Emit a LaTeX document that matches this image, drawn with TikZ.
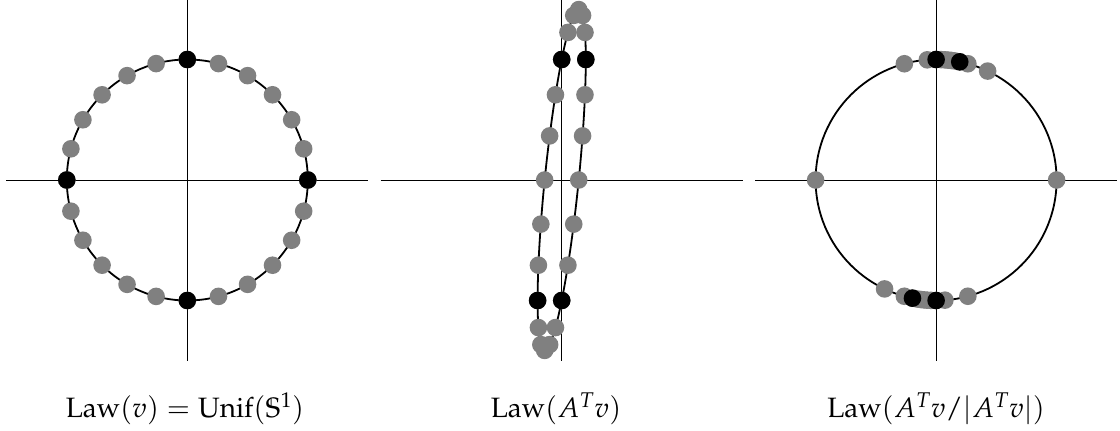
\documentclass[tikz,border=0pt]{standalone}
\usepackage{mathpazo}
\newcommand{\labsize}{\fontsize{28pt}{34pt}\selectfont}
\tikzset{
  axisline/.style={line width=0.8pt, black},
  curveline/.style={line width=1.8pt, black, line join=round},
  gdot/.style={fill=gray},
  bdot/.style={fill=black},
  lab/.style={anchor=base, inner sep=0pt, font=\labsize}
}
\begin{document}
\begin{tikzpicture}[x=1pt,y=1pt]
\useasboundingbox (0,0) rectangle (1120,431);
\def\R{120.5}
\def\rd{8.8}
% panel 1
\begin{scope}[shift={(187.3,251)}]
  \draw[axisline] (-181,0) -- (181,0);
  \draw[axisline] (0,-181) -- (0,180);
  \draw[curveline] (0,0) circle (\R);
  \foreach \a in {0,15,...,345} \fill[gdot] (\a:\R) circle (\rd);
  \foreach \a in {0,90,180,270} \fill[bdot] (\a:\R) circle (\rd);
\end{scope}
% panel 2
\begin{scope}[shift={(561.7,251)}]
  \draw[axisline] (-181,0) -- (181,0);
  \draw[axisline] (0,-181) -- (0,180);
  \draw[curveline, samples=181, domain=0:360, variable=\t]
    plot ({0.2*\R*sin(\t)}, {\R*(cos(\t)+sin(\t))}) -- cycle;
  \foreach \a in {0,15,...,345}
    \fill[gdot] ({0.2*\R*sin(\a)}, {\R*(cos(\a)+sin(\a))}) circle (\rd);
  \foreach \a in {0,90,180,270}
    \fill[bdot] ({0.2*\R*sin(\a)}, {\R*(cos(\a)+sin(\a))}) circle (\rd);
\end{scope}
% panel 3
\begin{scope}[shift={(936.1,251)}]
  \draw[axisline] (-181,0) -- (181,0);
  \draw[axisline] (0,-181) -- (0,180);
  \draw[curveline] (0,0) circle (\R);
  \foreach \a in {0,15,...,345} {
    \pgfmathsetmacro\px{0.2*sin(\a)}
    \pgfmathsetmacro\py{cos(\a)+sin(\a)}
    \pgfmathsetmacro\ang{atan2(\py,\px)}
    \fill[gdot] (\ang:\R) circle (\rd);
  }
  \foreach \a in {0,90,180,270} {
    \pgfmathsetmacro\px{0.2*sin(\a)}
    \pgfmathsetmacro\py{cos(\a)+sin(\a)}
    \pgfmathsetmacro\ang{atan2(\py,\px)}
    \fill[bdot] (\ang:\R) circle (\rd);
  }
\end{scope}
% labels
\node[lab] (l1) at (185,13) {$\mathrm{Law}(v)=\mathrm{Unif}(\mathbb{S}^1)$};
\node[lab] (l2) at (556,13) {$\mathrm{Law}(A^Tv)$};
\node[lab] (l3) at (936,13) {$\mathrm{Law}(A^Tv/|A^Tv|)$};
\end{tikzpicture}
\end{document}
